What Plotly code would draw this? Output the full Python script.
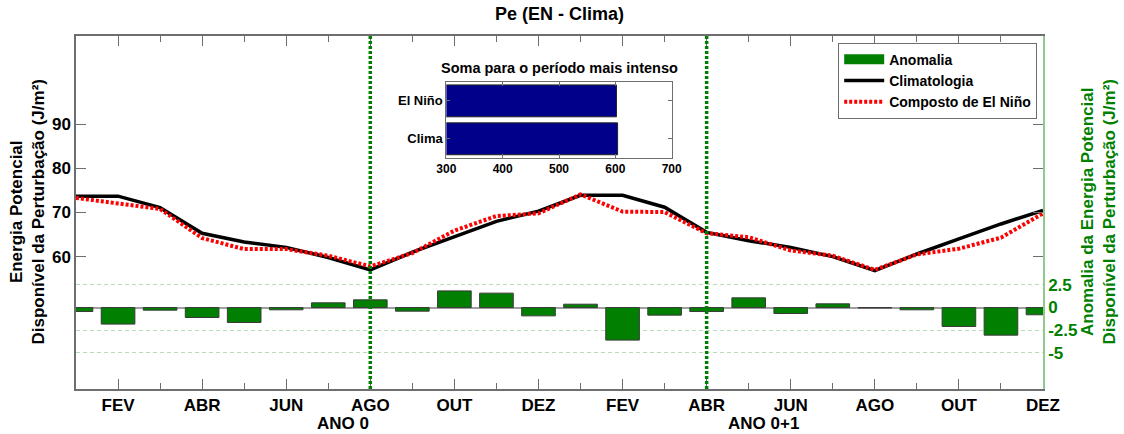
import plotly.graph_objects as go

# Month axis: two consecutive years (Ano 0 and Ano 0+1)
meses = ["JAN", "FEV", "MAR", "ABR", "MAI", "JUN", "JUL", "AGO", "SET", "OUT", "NOV", "DEZ"] * 2
x_mes = list(range(1, 25))

# Climatology and El Niño composite of perturbation available potential energy (J/m²)
climatologia = [73.7, 73.7, 71.1, 65.3, 63.3, 62.1, 59.8, 57.0, 61.0, 64.5, 68.0, 70.3,
                73.9, 73.9, 71.2, 65.5, 63.6, 62.1, 60.0, 56.8, 60.6, 64.0, 67.4, 70.5]
composto_el_nino = [73.3, 72.1, 70.8, 64.2, 61.7, 61.7, 60.2, 57.8, 60.8, 65.9, 69.2, 69.8,
                    74.1, 70.2, 70.1, 65.3, 64.4, 61.4, 60.2, 57.0, 60.5, 61.8, 64.3, 69.8]

# Anomaly (composite minus climatology)
anomalia = [-0.44, -1.83, -0.29, -1.10, -1.65, -0.25, 0.52, 0.85, -0.40, 1.84, 1.59, -0.92,
            0.37, -3.60, -0.84, -0.44, 1.07, -0.66, 0.41, -0.05, -0.25, -2.09, -3.05, -0.80]

# Labelled months and year labels
tick_meses = [2, 4, 6, 8, 10, 12, 14, 16, 18, 20, 22, 24]
tick_rotulos = [meses[i - 1] for i in tick_meses]
anos = ["ANO 0", "ANO 0+1"]
anos_x = [7.36, 17.36]

# Start and end of the most intense period
meses_periodo = [8, 16]

# Inset: sum over the most intense period
soma_categorias = ["El Niño", "Clima"]
soma_valores = [602, 604]

FONT = "Liberation Sans, Arial, sans-serif"
VERDE = "#007f00"
VERDE_CLARO = "#8fc98f"
VERDE_GRADE = "#b8dcb8"
CINZA = "#6e6e6e"

fig = go.Figure()

fig.add_trace(go.Bar(
    x=x_mes, y=anomalia, yaxis="y2", name="Anomalia", showlegend=False,
    marker=dict(color=VERDE, line=dict(color="#3a3a3a", width=1)),
    width=0.8,
))
# legend entry for the anomaly bars: a wide green patch
fig.add_trace(go.Scatter(
    x=[None], y=[None], mode="lines", name="Anomalia",
    line=dict(color=VERDE, width=14),
))
fig.add_trace(go.Scatter(
    x=x_mes, y=climatologia, mode="lines", name="Climatologia",
    line=dict(color="black", width=3.5),
))
fig.add_trace(go.Scatter(
    x=x_mes, y=composto_el_nino, mode="lines", name="Composto de El Niño",
    line=dict(color="#ff0000", width=4, dash="3px,2px"),
))

fig.add_trace(go.Bar(
    x=soma_valores, y=soma_categorias, orientation="h",
    xaxis="x3", yaxis="y3", showlegend=False, width=0.84,
    marker=dict(color="#00008b", line=dict(color="#222222", width=1)),
))

for m in meses_periodo:
    fig.add_shape(type="line", xref="x", yref="paper", x0=m, x1=m, y0=0, y1=1,
                  line=dict(color="#008000", width=3.5, dash="3px,2px"), layer="above")

tfont = dict(family=FONT, size=17, color="black", weight="bold")

fig.update_layout(
    width=1124, height=434,
    margin=dict(l=76, r=81, t=36, b=45),
    paper_bgcolor="white", plot_bgcolor="white",
    font=dict(family=FONT, color="black"),
    bargap=0.2,
    title=dict(text="Pe (EN - Clima)", x=0.5, xref="paper", xanchor="center",
               y=1 - 14 / 434, yref="container", yanchor="middle",
               font=dict(family=FONT, size=18, color="black", weight="bold")),
    xaxis=dict(
        range=[1, 24], tickmode="array", tickvals=tick_meses, ticktext=tick_rotulos,
        ticks="inside", ticklen=10, tickcolor=CINZA, showline=True, linecolor=CINZA,
        linewidth=1.5, mirror="ticks", showgrid=False, zeroline=False,
        tickfont=tfont,
        minor=dict(tickmode="array", tickvals=[m for m in x_mes if m not in tick_meses],
                   ticks="inside", ticklen=6, tickcolor=CINZA, showgrid=False),
    ),
    yaxis=dict(
        range=[30, 110], tickmode="array", tickvals=[60, 70, 80, 90],
        ticks="inside", ticklen=10, tickcolor=CINZA, showline=True, linecolor=CINZA,
        linewidth=1.5, mirror="ticks", showgrid=False, zeroline=False,
        tickfont=tfont,
    ),
    yaxis2=dict(
        overlaying="y", side="right", range=[-9, 30],
        tickmode="array", tickvals=[-5, -2.5, 0, 2.5], ticktext=["-5", "-2.5", "0", "2.5"],
        ticks="", showline=True, linecolor=VERDE_CLARO, linewidth=1.5,
        showgrid=True, gridcolor=VERDE_GRADE, griddash="4px,3px", gridwidth=1,
        zeroline=True, zerolinecolor="#a0a0a0", zerolinewidth=1.5,
        tickfont=dict(family=FONT, size=17, color=VERDE, weight="bold"),
    ),
    xaxis3=dict(
        domain=[0.383, 0.616], anchor="y3", range=[300, 700],
        tickvals=[300, 400, 500, 600, 700], ticks="inside", ticklen=4, tickcolor=CINZA,
        showline=True, linecolor=CINZA, linewidth=1, mirror="ticks", showgrid=False,
        zeroline=False, tickfont=dict(family=FONT, size=12, color="black", weight="bold"),
    ),
    yaxis3=dict(
        domain=[0.655, 0.870], anchor="x3", categoryorder="array",
        categoryarray=soma_categorias[::-1],
        ticks="inside", ticklen=4, tickcolor=CINZA,
        showline=True, linecolor=CINZA, linewidth=1, mirror="ticks", showgrid=False,
        tickfont=dict(family=FONT, size=13, color="black", weight="bold"),
    ),
    legend=dict(
        x=0.994, xanchor="right", y=0.981, yanchor="top",
        bgcolor="white", bordercolor=CINZA, borderwidth=1,
        font=dict(family=FONT, size=14, color="black", weight="bold"),
        tracegroupgap=0, itemwidth=40,
    ),
    showlegend=True,
)

anotacoes = [
    dict(text="Soma para o período mais intenso", xref="paper", yref="paper",
         x=0.4996, y=0.909, xanchor="center", yanchor="middle", showarrow=False,
         font=dict(family=FONT, size=14.5, color="black", weight="bold")),
    dict(text="Energia Potencial<br>Disponível da Perturbação (J/m²)", xref="paper", yref="paper",
         x=(27 - 76) / 967, y=0.5, xanchor="center", yanchor="middle", textangle=-90,
         showarrow=False, font=dict(family=FONT, size=17, color="black", weight="bold")),
    dict(text="Anomalia da Energia Potencial<br>Disponível da Perturbação (J/m²)",
         xref="paper", yref="paper", x=(1098 - 76) / 967, y=0.5, xanchor="center",
         yanchor="middle", textangle=-90, showarrow=False,
         font=dict(family=FONT, size=17, color=VERDE, weight="bold")),
]
for rotulo, xa in zip(anos, anos_x):
    anotacoes.append(dict(text=rotulo, xref="x", yref="paper", x=xa, y=-(423 - 389) / 353,
                          xanchor="center", yanchor="middle", showarrow=False,
                          font=dict(family=FONT, size=17, color="black", weight="bold")))
fig.update_layout(annotations=anotacoes)

fig.write_html("out.html")
